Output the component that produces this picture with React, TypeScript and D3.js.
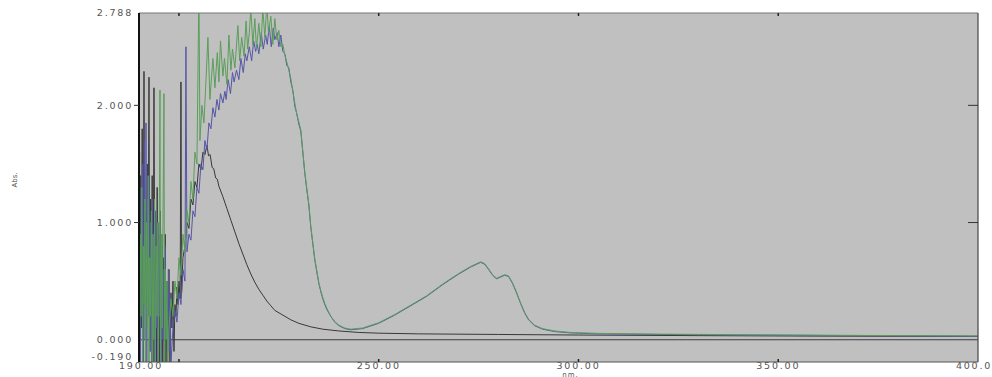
import React from 'react';
import * as d3 from 'd3';

// spectra: [wavelength nm, absorbance]
const blackPts: [number, number][] = [
  [190, 0.9], [190.2, -0.25], [190.4, 1.4], [190.6, 0.1], [190.8, 1.8], [191, -0.2],
  [191.25, 2.29], [191.45, 0.3], [191.65, 1.1], [191.85, -0.25], [192.05, 1.5], [192.25, 0.2],
  [192.5, 2.24], [192.7, -0.1], [192.9, 1.2], [193.1, 0.0], [193.3, 1.4], [193.5, -0.25],
  [193.75, 2.15], [193.95, 0.4], [194.15, 1.0], [194.35, -0.2], [194.55, 1.3], [194.75, 0.1],
  [194.95, 0.9], [195.15, -0.25], [195.35, 1.1], [195.55, 0.3], [195.75, 0.8], [195.95, -0.2],
  [196.15, 0.7], [196.35, 0.1], [196.55, 0.9], [196.75, -0.25], [197, 0.5], [197.25, 0.0],
  [197.5, 0.6], [197.75, -0.2], [198, 0.4], [198.25, 0.1], [198.5, 0.5], [198.75, -0.1],
  [199, 0.3], [199.25, 0.2], [199.5, 0.45], [199.75, 0.3], [200, 0.5], [200.3, 0.35],
  [200.5, 2.2], [200.65, 0.4], [201, 0.7], [201.5, 0.8], [202, 1.0], [202.5, 0.95],
  [203, 1.2], [203.5, 1.15], [204, 1.35], [204.5, 1.3], [205, 1.5], [205.5, 1.45],
  [206, 1.6], [206.5, 1.58], [207, 1.66], [207.4, 1.57], [207.8, 1.58], [208.3, 1.47],
  [208.7, 1.46], [209.2, 1.38], [209.6, 1.37], [210, 1.31], [211, 1.22], [212, 1.12],
  [213, 1.02], [214, 0.92], [215, 0.82], [216, 0.73], [217, 0.64], [218, 0.56],
  [219, 0.49], [220, 0.43], [221, 0.38], [222, 0.33], [223, 0.29], [224, 0.25],
  [226, 0.21], [228, 0.17], [230, 0.14], [233, 0.11], [236, 0.09], [240, 0.075],
  [245, 0.062], [250, 0.056], [260, 0.05], [280, 0.045], [300, 0.04], [330, 0.035],
  [360, 0.031], [400, 0.028],
];

const bluePts: [number, number][] = [
  [190, 0.4], [190.15, 1.6], [190.35, -0.25], [190.55, 1.3], [190.75, 0.2], [190.95, 1.5],
  [191.15, -0.2], [191.35, 1.7], [191.55, 0.0], [191.75, 1.85], [191.95, -0.25], [192.15, 1.2],
  [192.35, 0.3], [192.55, 1.4], [192.75, -0.1], [192.95, 1.0], [193.15, -0.25], [193.35, 1.2],
  [193.55, 0.2], [193.75, 0.9], [193.95, -0.25], [194.15, 1.1], [194.35, 0.1], [194.55, 0.8],
  [194.75, -0.2], [194.95, 1.0], [195.15, 0.2], [195.35, 0.7], [195.55, -0.25], [195.75, 0.9],
  [195.95, 0.0], [196.15, 0.6], [196.35, -0.25], [196.55, 0.8], [196.75, 0.1], [196.95, 0.5],
  [197.15, -0.25], [197.35, 0.6], [197.55, -0.1], [197.75, 0.4], [198, -0.2], [198.5, 0.1],
  [199, 0.25], [199.5, 0.15], [200, 0.4], [200.5, 0.3], [201, 0.6], [201.5, 0.5],
  [201.75, 2.5], [202, 0.75], [202.5, 0.9], [203, 0.85], [203.5, 1.1], [204, 1.05],
  [204.5, 1.3], [205, 1.25], [205.5, 1.5], [206, 1.45], [206.5, 1.7], [207, 1.62],
  [207.5, 1.85], [208, 1.8], [208.5, 1.98], [209, 1.9], [209.5, 2.05], [210, 1.96],
  [210.4, 2.1], [211, 2.02], [211.5, 2.12], [211.8, 2.05], [212.3, 2.22], [212.9, 2.1],
  [213.4, 2.28], [213.8, 2.2], [214.4, 2.3], [215, 2.22], [215.5, 2.4], [216.1, 2.28],
  [216.6, 2.44], [217, 2.38], [217.6, 2.5], [218.2, 2.38], [218.7, 2.55], [219.2, 2.46],
  [219.6, 2.52], [220, 2.44], [220.6, 2.62], [221.1, 2.48], [221.7, 2.6], [222.1, 2.52],
  [222.6, 2.68], [223.1, 2.5], [223.6, 2.66], [224, 2.56], [224.6, 2.62], [225, 2.5],
  [225.5, 2.6], [226, 2.46], [226.5, 2.44], [227, 2.34], [227.5, 2.32], [228, 2.2],
  [228.5, 2.13], [229, 1.99], [229.5, 1.93], [230, 1.84], [230.5, 1.78], [231, 1.6],
  [231.5, 1.42], [232, 1.28], [232.5, 1.15], [233, 0.96], [233.5, 0.82], [234, 0.68],
  [234.5, 0.58], [235, 0.48], [235.5, 0.41], [236, 0.35], [236.5, 0.3], [237, 0.26],
  [238, 0.2], [239, 0.15], [240, 0.12], [241.5, 0.095], [243, 0.085], [246, 0.095],
  [250, 0.14], [254, 0.21], [258, 0.29], [262, 0.37], [266, 0.47], [270, 0.56],
  [273, 0.62], [275.5, 0.66], [276.5, 0.645], [277.5, 0.6], [278.5, 0.55], [279.5, 0.52],
  [280.5, 0.535], [281.5, 0.55], [282.5, 0.54], [283.5, 0.48], [284.5, 0.4], [285.5, 0.31],
  [286.5, 0.23], [287.5, 0.17], [289, 0.12], [291, 0.09], [294, 0.07], [298, 0.058],
  [305, 0.05], [320, 0.045], [340, 0.04], [370, 0.035], [400, 0.03],
];

const greenPts: [number, number][] = [
  [190, 1.1], [190.1, -0.2], [190.3, 0.9], [190.5, 0.2], [190.7, 1.3], [190.9, -0.25],
  [191.1, 0.8], [191.3, 0.3], [191.5, 1.2], [191.7, -0.2], [191.9, 1.0], [192.1, 0.1],
  [192.3, 1.4], [192.5, -0.25], [192.7, 0.7], [192.9, 0.2], [193.1, 1.1], [193.3, -0.2],
  [193.5, 0.9], [193.7, 0.0], [193.9, 1.2], [194.1, -0.25], [194.3, 0.8], [194.5, 0.2],
  [194.7, 1.0], [194.9, -0.2], [195.25, 2.13], [195.4, -0.25], [195.6, 0.9], [195.8, 0.1],
  [196, 1.0], [196.25, 2.1], [196.4, -0.25], [196.6, 0.6], [196.8, 0.0], [197, 0.5],
  [197.2, -0.2], [197.5, 0.1], [198, 0.35], [198.5, 0.2], [199, 0.5], [199.5, 0.35],
  [200, 0.7], [200.5, 0.55], [201, 0.9], [201.5, 0.75], [202, 1.1], [202.5, 1.0],
  [203, 1.35], [203.5, 1.2], [204, 1.6], [204.5, 1.5], [205, 3.0], [205.25, 1.7],
  [205.75, 2.0], [206.25, 1.85], [206.75, 2.2], [207.25, 2.58], [207.75, 2.05], [208.5, 2.4],
  [209, 2.15], [209.6, 2.45], [210, 2.2], [210.4, 2.55], [211, 2.25], [211.4, 2.4],
  [212, 2.18], [212.5, 2.6], [213, 2.3], [213.4, 2.48], [214, 2.32], [214.75, 2.68],
  [215.2, 2.38], [215.7, 2.58], [216.3, 2.42], [216.8, 2.72], [217.2, 2.48], [217.6, 2.62],
  [218, 2.82], [218.5, 2.52], [219, 2.74], [219.4, 2.48], [220, 2.7], [220.5, 2.5],
  [221, 2.82], [221.5, 2.58], [222, 2.86], [222.4, 2.62], [223, 2.76], [223.5, 2.52],
  [224, 2.74], [224.5, 2.56], [225, 2.64], [225.5, 2.5], [226, 2.52], [226.5, 2.43],
  [227, 2.37], [227.5, 2.3], [228, 2.23], [228.5, 2.12], [229, 2.02], [229.5, 1.92],
  [230, 1.86], [230.5, 1.79], [231, 1.61], [231.5, 1.43], [232, 1.29], [232.5, 1.16],
  [233, 0.97], [233.5, 0.83], [234, 0.69], [234.5, 0.59], [235, 0.49], [235.5, 0.42],
  [236, 0.36], [236.5, 0.31], [237, 0.27], [238, 0.2], [239, 0.155], [240, 0.125],
  [241.5, 0.1], [243, 0.09], [246, 0.1], [250, 0.145], [254, 0.215], [258, 0.295],
  [262, 0.375], [266, 0.475], [270, 0.565], [273, 0.625], [275.5, 0.665], [276.5, 0.65],
  [277.5, 0.605], [278.5, 0.555], [279.5, 0.525], [280.5, 0.54], [281.5, 0.555], [282.5, 0.545],
  [283.5, 0.485], [284.5, 0.405], [285.5, 0.315], [286.5, 0.235], [287.5, 0.175], [289, 0.125],
  [291, 0.095], [294, 0.075], [298, 0.062], [305, 0.054], [320, 0.048], [340, 0.043],
  [370, 0.037], [400, 0.032],
];

const yTicks = [2.788, 2, 1, 0, -0.19];
const yTickLabels = ['2.788', '2.000', '1.000', '0.000', '-0.190'];
const xTicks = [190, 250, 300, 350, 400];
const xTickLabels = ['190.00', '250.00', '300.00', '350.00', '400.0'];
const xMinorTicks = [200, 250, 300, 350];
const yMinorTicks = [1, 2];

const series = [
  { pts: blackPts, color: '#383838' },
  { pts: bluePts, color: '#5656a6' },
  { pts: greenPts, color: '#5a9e5a' },
];

const W = 992;
const H = 377;
const margin = { top: 13, right: 14, bottom: 15, left: 139 };

export default function App() {
  const x = d3.scaleLinear().domain([190, 400]).range([margin.left, W - margin.right]);
  const y = d3.scaleLinear().domain([-0.19, 2.788]).range([H - margin.bottom, margin.top]);

  const line = d3.line<[number, number]>()
    .x(d => x(d[0]))
    .y(d => y(d[1]));

  const font = '"DejaVu Sans", Verdana, sans-serif';
  const x0 = x(190);
  const x1 = x(400);
  const yTop = y(2.788);
  const yBot = y(-0.19);

  return (
    <>
      <style>{'body{margin:0}'}</style>
      <svg width={W} height={H} style={{ display: 'block', background: '#fff' }}>
        <defs>
          <clipPath id="plot">
            <rect x={x0} y={yTop} width={x1 - x0} height={yBot - yTop} />
          </clipPath>
        </defs>

        <rect x={x0} y={yTop} width={x1 - x0} height={yBot - yTop} fill="#c0c0c0" />

        {/* zero line */}
        <line x1={x0} x2={x1} y1={y(0)} y2={y(0)} stroke="#3c3c3c" strokeWidth={1.2} />

        <g clipPath="url(#plot)">
          {series.map((s, i) => (
            <path key={i} d={line(s.pts) || ''} fill="none" stroke={s.color} strokeWidth={1} />
          ))}
        </g>

        {/* frame */}
        <line x1={x0} x2={x1} y1={yTop} y2={yTop} stroke="#777" strokeWidth={1} />
        <line x1={x0} x2={x1} y1={yBot} y2={yBot} stroke="#555" strokeWidth={1} />
        <line x1={x1} x2={x1} y1={yTop} y2={yBot} stroke="#444" strokeWidth={1.2} />
        <line x1={x0} x2={x0} y1={yTop} y2={yBot} stroke="#111" strokeWidth={2} />

        {/* tick marks */}
        {xMinorTicks.map(t => (
          <g key={'xt' + t}>
            <line x1={x(t)} x2={x(t)} y1={yBot} y2={yBot - 3} stroke="#222" strokeWidth={1.5} />
            <line x1={x(t)} x2={x(t)} y1={yTop} y2={yTop + 3} stroke="#222" strokeWidth={1.5} />
          </g>
        ))}
        {yMinorTicks.map(t => (
          <g key={'yt' + t}>
            <line x1={x0 - 5} x2={x0} y1={y(t)} y2={y(t)} stroke="#333" strokeWidth={1} />
            <line x1={x1 - 10} x2={x1} y1={y(t)} y2={y(t)} stroke="#333" strokeWidth={1} />
          </g>
        ))}

        {/* y labels */}
        {yTicks.map((t, i) => (
          <text key={'yl' + t} x={x0 - 6} y={y(t) - (t < 0 ? 5 : 0)} dy="0.35em" textAnchor="end"
            fontFamily={font} fontSize={9.5} letterSpacing={1.8} fill="#555">
            {yTickLabels[i]}
          </text>
        ))}

        {/* x labels */}
        {xTicks.map((t, i) => (
          <text key={'xl' + t} x={x(t) + (t === 400 ? -4 : t === 190 ? 2 : 0)} y={yBot + 7}
            textAnchor="middle" fontFamily={font} fontSize={9.5} letterSpacing={1.8} fill="#555">
            {xTickLabels[i]}
          </text>
        ))}
        <text x={x(300) - 8} y={H - 0.5} textAnchor="middle" fontFamily={font} fontSize={7}
          letterSpacing={1} fill="#555">nm.</text>

        <text transform={`translate(17,180) rotate(-90)`} textAnchor="middle" fontFamily={font}
          fontSize={7} fill="#555">Abs.</text>
      </svg>
    </>
  );
}
